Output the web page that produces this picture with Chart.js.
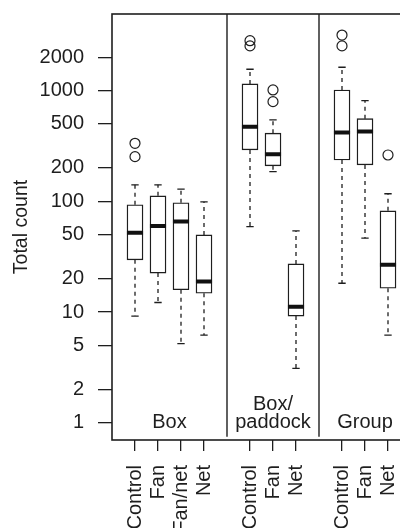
<!DOCTYPE html>
<html>
<head>
<meta charset="utf-8">
<script src="https://cdn.jsdelivr.net/npm/chart.js@4/dist/chart.umd.min.js"></script>
<style>
  html, body { margin: 0; padding: 0; background: #fff; overflow: hidden; }
  #wrap { width: 400px; height: 528px; overflow: hidden; }
</style>
</head>
<body>
<div id="wrap"><canvas id="chart" width="420" height="528"></canvas></div>
<script>
// groups and the treatments inside each one
var groupNames = ["Box", "Box/\npaddock", "Group"];
var groupSizes = [4, 3, 3];
var categories = ["Control", "Fan", "Fan/net", "Net", "Control", "Fan", "Net", "Control", "Fan", "Net"];

// box plot statistics (total count, log scale)
var mins    = [9.2, 12.2, 5.2, 6.2, 59, 185, 3.1, 18.2, 46.5, 6.2];
var q1s     = [29.6, 22.5, 15.9, 14.8, 291, 209, 9.2, 236, 213, 16.4];
var medians = [52, 60, 65.6, 18.9, 472, 266, 11.2, 417, 426, 26.7];
var q3s     = [93, 112, 97, 49.7, 1148, 412, 27.2, 1012, 557, 82];
var maxs    = [141, 141, 129, 99, 1557, 543, 54, 1623, 811, 117];
var outliers = [[253, 334], [], [], [], [2530, 2820], [794, 1012], [], [2530, 3170], [], [262]];

var yTicks = [1, 2, 5, 10, 20, 50, 100, 200, 500, 1000, 2000];
var yMin = 0.748, yMax = 4910;

var ink = "#1e1e1e";
var font = "'Liberation Sans', Arial, sans-serif";
var fontSize = 20;

// slot positions: one empty slot between groups
var positions = [];
var groupStart = [], groupEnd = [];
var slot = 0;
groupSizes.forEach(function (n) {
  groupStart.push(slot);
  for (var k = 0; k < n; k++) { positions.push(slot); slot++; }
  groupEnd.push(slot - 1);
  slot++;
});

var boxData = [], medianData = [], whiskerData = [], capData = [], outlierData = [], dividerData = [];
var half = 0.35, cap = 0.16;
positions.forEach(function (x, i) {
  boxData.push({ x: x, y: [q1s[i], q3s[i]] });
  medianData.push({ x: x - half, y: medians[i] }, { x: x + half, y: medians[i] }, { x: x, y: null });
  whiskerData.push({ x: x, y: q3s[i] }, { x: x, y: maxs[i] }, { x: x, y: null });
  whiskerData.push({ x: x, y: q1s[i] }, { x: x, y: mins[i] }, { x: x, y: null });
  capData.push({ x: x - cap, y: maxs[i] }, { x: x + cap, y: maxs[i] }, { x: x, y: null });
  capData.push({ x: x - cap, y: mins[i] }, { x: x + cap, y: mins[i] }, { x: x, y: null });
  outliers[i].forEach(function (v) { outlierData.push({ x: x, y: v }); });
});
for (var g = 0; g < groupEnd.length - 1; g++) {
  var dx = groupEnd[g] + 1;
  dividerData.push({ x: dx, y: yMin }, { x: dx, y: yMax }, { x: dx, y: null });
}

var panelLabels = {
  id: "panelLabels",
  afterDraw: function (chart) {
    var ctx = chart.ctx, area = chart.chartArea, xs = chart.scales.x;
    ctx.save();
    ctx.strokeStyle = ink;
    ctx.lineWidth = 1.6;
    ctx.strokeRect(area.left, area.top, area.right - area.left, area.bottom - area.top);
    ctx.fillStyle = ink;
    ctx.font = fontSize + "px " + font;
    ctx.textAlign = "center";
    ctx.textBaseline = "alphabetic";
    groupNames.forEach(function (name, g) {
      var cx = xs.getPixelForValue((groupStart[g] + groupEnd[g]) / 2);
      var lines = name.split("\n");
      for (var k = 0; k < lines.length; k++) {
        var y = area.bottom - 12 - (lines.length - 1 - k) * 18;
        ctx.fillText(lines[k], cx, y);
      }
    });
    ctx.restore();
  }
};

new Chart(document.getElementById("chart"), {
  type: "bar",
  data: {
    datasets: [
      { type: "line", data: dividerData, borderColor: ink, borderWidth: 1.4, pointRadius: 0, spanGaps: false, order: 5 },
      { type: "line", data: whiskerData, borderColor: ink, borderWidth: 1.3, borderDash: [4, 4], pointRadius: 0, spanGaps: false, order: 4 },
      { type: "line", data: capData, borderColor: ink, borderWidth: 1.3, pointRadius: 0, spanGaps: false, order: 3 },
      { type: "bar", data: boxData, backgroundColor: "#fff", borderColor: ink, borderWidth: 1.4, borderSkipped: false, barThickness: 16, grouped: false, order: 2 },
      { type: "line", data: medianData, borderColor: "#111", borderWidth: 4, pointRadius: 0, spanGaps: false, borderCapStyle: "butt", order: 1 },
      { type: "line", data: outlierData, showLine: false, pointStyle: "circle", pointRadius: 5, pointBackgroundColor: "rgba(0,0,0,0)", pointBorderColor: ink, pointBorderWidth: 1.2, order: 0 }
    ]
  },
  options: {
    responsive: false,
    animation: false,
    layout: { padding: { top: 14, right: 9, left: 0, bottom: 0 } },
    plugins: { legend: { display: false }, tooltip: { enabled: false } },
    scales: {
      x: {
        type: "linear",
        min: -1,
        max: 12,
        offset: false,
        border: { display: false },
        grid: { offset: false, drawOnChartArea: false, drawTicks: true, tickLength: 11, color: ink, lineWidth: 1.3 },
        afterBuildTicks: function (scale) {
          scale.ticks = positions.map(function (v) { return { value: v }; });
        },
        afterFit: function (scale) {
          scale.height = 88;
          scale.paddingLeft = 0;
          scale.paddingRight = 0;
        },
        ticks: {
          autoSkip: false,
          minRotation: 90,
          maxRotation: 90,
          padding: 14,
          color: ink,
          font: { family: font, size: fontSize },
          callback: function (value, index) { return categories[index]; }
        }
      },
      y: {
        type: "logarithmic",
        min: yMin,
        max: yMax,
        border: { display: false },
        grid: { drawOnChartArea: false, drawTicks: true, tickLength: 14, color: ink, lineWidth: 1.3 },
        afterBuildTicks: function (scale) {
          scale.ticks = yTicks.map(function (v) { return { value: v }; });
        },
        afterFit: function (scale) {
          scale.width = 112;
          scale.paddingTop = 0;
          scale.paddingBottom = 0;
        },
        ticks: {
          padding: 14,
          color: ink,
          font: { family: font, size: fontSize },
          callback: function (value) { return String(value); }
        },
        title: {
          display: true,
          text: "Total count",
          color: ink,
          font: { family: font, size: 19.5 },
          padding: { top: 10, bottom: 0 }
        }
      }
    }
  },
  plugins: [panelLabels]
});
</script>
</body>
</html>
